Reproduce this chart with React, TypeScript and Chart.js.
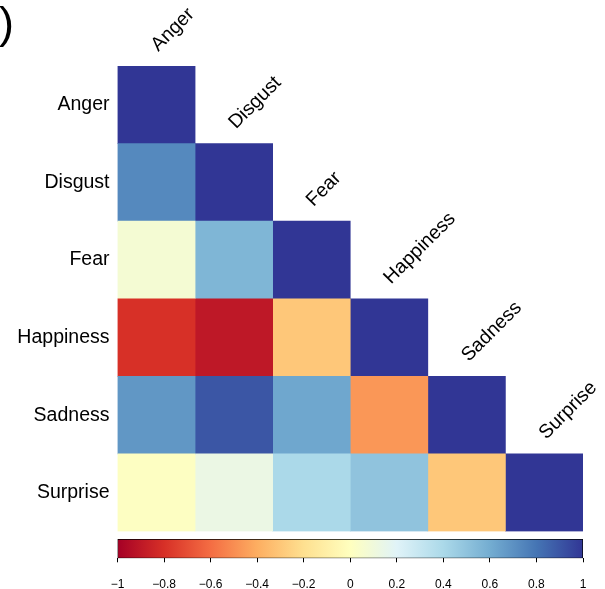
import React, { useEffect, useRef } from "react";
import { Chart, registerables } from "chart.js";

Chart.register(...registerables);

// Emotion categories (rows top-to-bottom, columns left-to-right)
const emotions = ["Anger", "Disgust", "Fear", "Happiness", "Sadness", "Surprise"];

// Lower-triangular correlation rows
const angerRow = [1];
const disgustRow = [0.73, 1];
const fearRow = [0.07, 0.56, 1];
const happinessRow = [-0.8, -0.9, -0.3, 1];
const sadnessRow = [0.68, 0.9, 0.62, -0.47, 1];
const surpriseRow = [0.01, 0.13, 0.4, 0.5, -0.3, 1];

const correlationRows = [angerRow, disgustRow, fearRow, happinessRow, sadnessRow, surpriseRow];

// Colour bar tick range
const scaleMin = -1;
const scaleMax = 1;
const scaleStep = 0.2;

// RdYlBu diverging palette, evenly spaced from -1 to 1
const palette = [
  [165, 0, 38],
  [215, 48, 39],
  [244, 109, 67],
  [253, 174, 97],
  [254, 224, 144],
  [255, 255, 191],
  [224, 243, 248],
  [171, 217, 233],
  [116, 173, 209],
  [69, 117, 180],
  [49, 54, 149],
];

const FONT = "'Liberation Sans', Arial, Helvetica, sans-serif";
const LABEL_SIZE = 19.5;

function colorFor(v: number): string {
  const t = ((Math.max(-1, Math.min(1, v)) + 1) / 2) * (palette.length - 1);
  const i = Math.min(Math.floor(t), palette.length - 2);
  const f = t - i;
  const a = palette[i];
  const b = palette[i + 1];
  const c = a.map((x, k) => Math.round(x + (b[k] - x) * f));
  return `rgb(${c[0]},${c[1]},${c[2]})`;
}

function fmtTick(v: number): string {
  const r = Number(v.toFixed(2));
  if (r === 0) return "0";
  return r < 0 ? "\u2212" + String(Math.abs(r)) : String(r);
}

// Diagonal column labels and the panel mark
const decorations = {
  id: "decorations",
  afterDraw(chart: any) {
    const { ctx } = chart;
    const xs = chart.scales.x;
    const ys = chart.scales.y;
    const rowH = ys.height / emotions.length;
    ctx.save();
    ctx.fillStyle = "#000";
    ctx.font = `${LABEL_SIZE}px ${FONT}`;
    ctx.textAlign = "left";
    ctx.textBaseline = "alphabetic";
    emotions.forEach((name, j) => {
      const x = xs.getPixelForValue(j + 0.5) + 2;
      const y = ys.getPixelForValue(j) - rowH / 2 - 14;
      ctx.save();
      ctx.translate(x, y);
      ctx.rotate(-Math.PI / 4);
      ctx.fillText(name, 0, 0);
      ctx.restore();
    });
    ctx.font = `45px ${FONT}`;
    ctx.fillText(")", -1, 38);
    ctx.restore();
  },
};

export default function App() {
  const mainRef = useRef<HTMLCanvasElement>(null);
  const barRef = useRef<HTMLCanvasElement>(null);

  useEffect(() => {
    if (!mainRef.current || !barRef.current) return;

    const datasets = emotions.map((_, j) => ({
      label: emotions[j],
      data: emotions.map((__, i) => (i >= j ? [j, j + 1] : null)),
      backgroundColor: emotions.map((__, i) =>
        i >= j ? colorFor(correlationRows[i][j]) : "rgba(0,0,0,0)"
      ),
      borderWidth: 0,
      barPercentage: 1,
      categoryPercentage: 1,
      grouped: false,
    }));

    const main = new Chart(mainRef.current, {
      type: "bar",
      data: { labels: emotions, datasets: datasets as any },
      options: {
        indexAxis: "y",
        responsive: false,
        animation: false,
        events: [],
        layout: { padding: { left: 0, right: 22, top: 66, bottom: 57.5 } },
        plugins: { legend: { display: false }, tooltip: { enabled: false } },
        scales: {
          x: { type: "linear", min: 0, max: emotions.length, display: false },
          y: {
            type: "category",
            grid: { display: false, drawTicks: false },
            border: { display: false },
            ticks: { color: "#000", padding: 8, font: { family: FONT, size: LABEL_SIZE } },
            afterFit: (s: any) => {
              s.width = 117.5;
            },
          },
        },
      },
      plugins: [decorations],
    });

    const stops = palette.map((c) => `rgb(${c[0]},${c[1]},${c[2]})`);

    const bar = new Chart(barRef.current, {
      type: "bar",
      data: {
        labels: ["scale"],
        datasets: [
          {
            data: [[scaleMin, scaleMax]],
            backgroundColor: (ctx: any) => {
              const chart = ctx.chart;
              const area = chart.chartArea;
              if (!area || !isFinite(area.left) || !isFinite(area.right)) return stops[5];
              const g = chart.ctx.createLinearGradient(area.left, 0, area.right, 0);
              stops.forEach((c, k) => g.addColorStop(k / (stops.length - 1), c));
              return g;
            },
            borderColor: "#000",
            borderWidth: 1,
            borderSkipped: false,
            barPercentage: 1,
            categoryPercentage: 1,
          } as any,
        ],
      },
      options: {
        indexAxis: "y",
        responsive: false,
        animation: false,
        events: [],
        layout: { padding: { left: 117.5, right: 22, top: 9, bottom: 0 } },
        plugins: { legend: { display: false }, tooltip: { enabled: false } },
        scales: {
          y: { display: false },
          x: {
            type: "linear",
            min: scaleMin,
            max: scaleMax,
            position: "bottom",
            grid: { drawOnChartArea: false, drawTicks: true, tickLength: 4, color: "#000" },
            border: { display: false },
            ticks: {
              stepSize: scaleStep,
              color: "#000",
              padding: 15,
              maxRotation: 0,
              autoSkip: false,
              font: { family: FONT, size: 12 },
              callback: (v: any) => fmtTick(Number(v)),
            },
            afterFit: (s: any) => {
              s.height = 30.7;
            },
          },
        },
      },
    });

    return () => {
      main.destroy();
      bar.destroy();
    };
  }, []);

  return (
    <div style={{ position: "fixed", left: 0, top: 0, width: 605, height: 589, background: "#fff" }}>
      <canvas ref={mainRef} width={605} height={589} style={{ position: "absolute", left: 0, top: 0 }} />
      <canvas ref={barRef} width={605} height={59} style={{ position: "absolute", left: 0, top: 530 }} />
    </div>
  );
}
